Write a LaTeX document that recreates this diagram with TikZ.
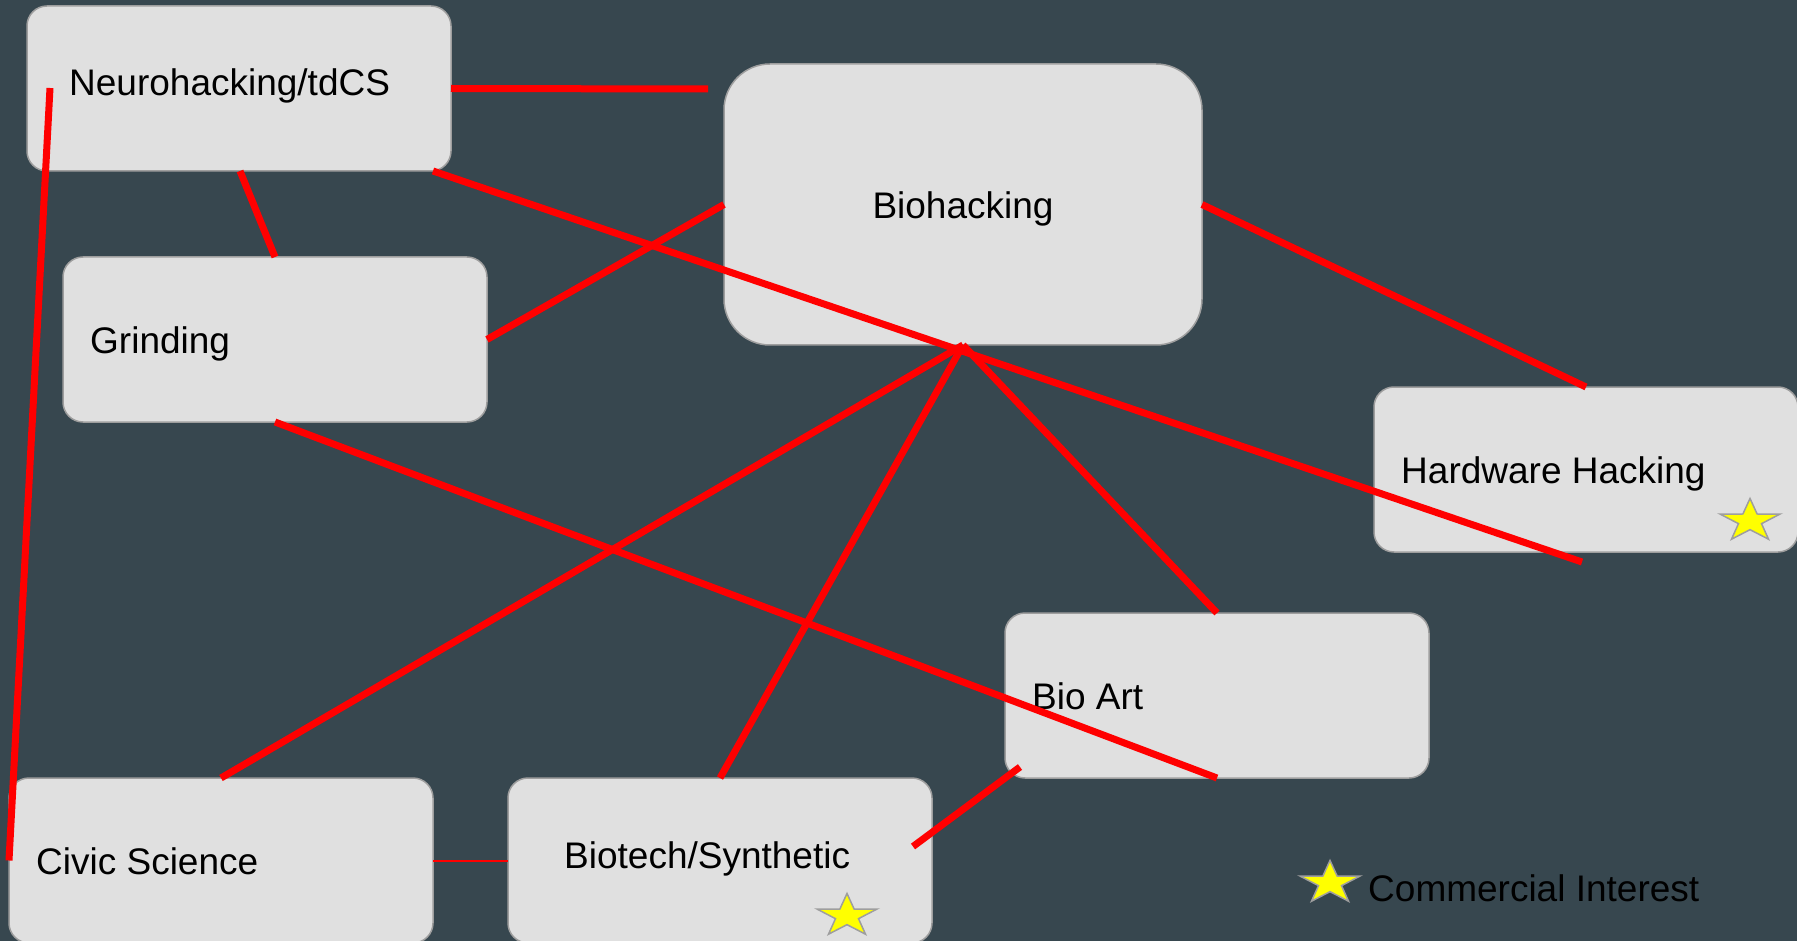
\documentclass[tikz,border=0pt]{standalone}
\usepackage{fontspec}
\setmainfont{Liberation Sans}
\usetikzlibrary{shapes.geometric}
\definecolor{bgc}{HTML}{37474F}
\definecolor{boxfill}{HTML}{E0E0E0}
\definecolor{boxline}{HTML}{9E9E9E}
\definecolor{linkred}{HTML}{FF0000}
\definecolor{staryel}{HTML}{FFFF00}
\tikzset{
  box/.style={draw=boxline, line width=1.5pt, fill=boxfill, rounded corners=20pt,
    minimum width=424pt, minimum height=165pt, inner sep=0pt, outer sep=0pt, anchor=north west},
  lbl/.style={font=\fontsize{37}{44}\selectfont, text=black, inner sep=0pt, anchor=base west},
  link/.style={draw=linkred, line width=7pt},
  thinlink/.style={draw=linkred, line width=2pt},
  cstar/.style={star, star points=5, star point ratio=2.6, minimum size=45pt, inner sep=0pt,
    fill=staryel, draw=boxline, line width=1.5pt, xscale=1.4, transform shape}
}
\begin{document}
\begin{tikzpicture}[x=1pt,y=-1pt]
\fill[bgc] (0,0) rectangle (1797,941);
\useasboundingbox (0,0) rectangle (1797,941);
\clip (0,0) rectangle (1797,941);
% boxes
\node[box] (neuro) at (27,6) {};
\node[box, minimum width=478pt, minimum height=281pt, rounded corners=46pt] (bio) at (724,64) {};
\node[box] (grind) at (63,257) {};
\node[box] (hw) at (1374,387) {};
\node[box] (art) at (1005,613) {};
\node[box] (civic) at (9,778) {};
\node[box] (biotech) at (508,778) {};
% labels
\node[lbl] (neurot) at (69,96) {Neurohacking/tdCS};
\node[lbl, anchor=base] (biot) at (963,219) {Biohacking};
\node[lbl] (grindt) at (90,353) {Grinding};
\node[lbl] (hwt) at (1401,483) {Hardware Hacking};
\node[lbl] (artt) at (1032,709) {Bio Art};
\node[lbl] (civict) at (36,874) {Civic Science};
\node[lbl] (biotecht) at (564,868) {Biotech/Synthetic};
% stars
\node[cstar] (hwstar) at (1750,521) {};
\node[cstar] (btstar) at (847,916) {};
\node[cstar] (legstar) at (1330,883) {};
\node[lbl] (legt) at (1368,901) {Commercial Interest};
% free ends
\coordinate (n1end) at (708,89);
\coordinate (n4start) at (50,88);
\coordinate (n3end) at (1582,562);
% connectors
\draw[link] (neuro.east) -- (n1end);
\draw[link] ([xshift=1pt]neuro.south) -- (grind.north);
\draw[link] ([xshift=-18pt]neuro.south east) -- (n3end);
\draw[link] (n4start) -- (civic.west);
\draw[link] (grind.east) -- (bio.west);
\draw[link] (grind.south) -- (art.south);
\draw[link] (bio.east) -- (hw.north);
\draw[link] (bio.south) -- (civic.north);
\draw[link] (bio.south) -- (biotech.north);
\draw[link] (bio.south) -- (art.north);
\draw[link] ([xshift=-19pt,yshift=14pt]biotech.east) -- ([xshift=15pt,yshift=11pt]art.south west);
\draw[thinlink] (civic.east) -- (biotech.west);
\end{tikzpicture}
\end{document}
